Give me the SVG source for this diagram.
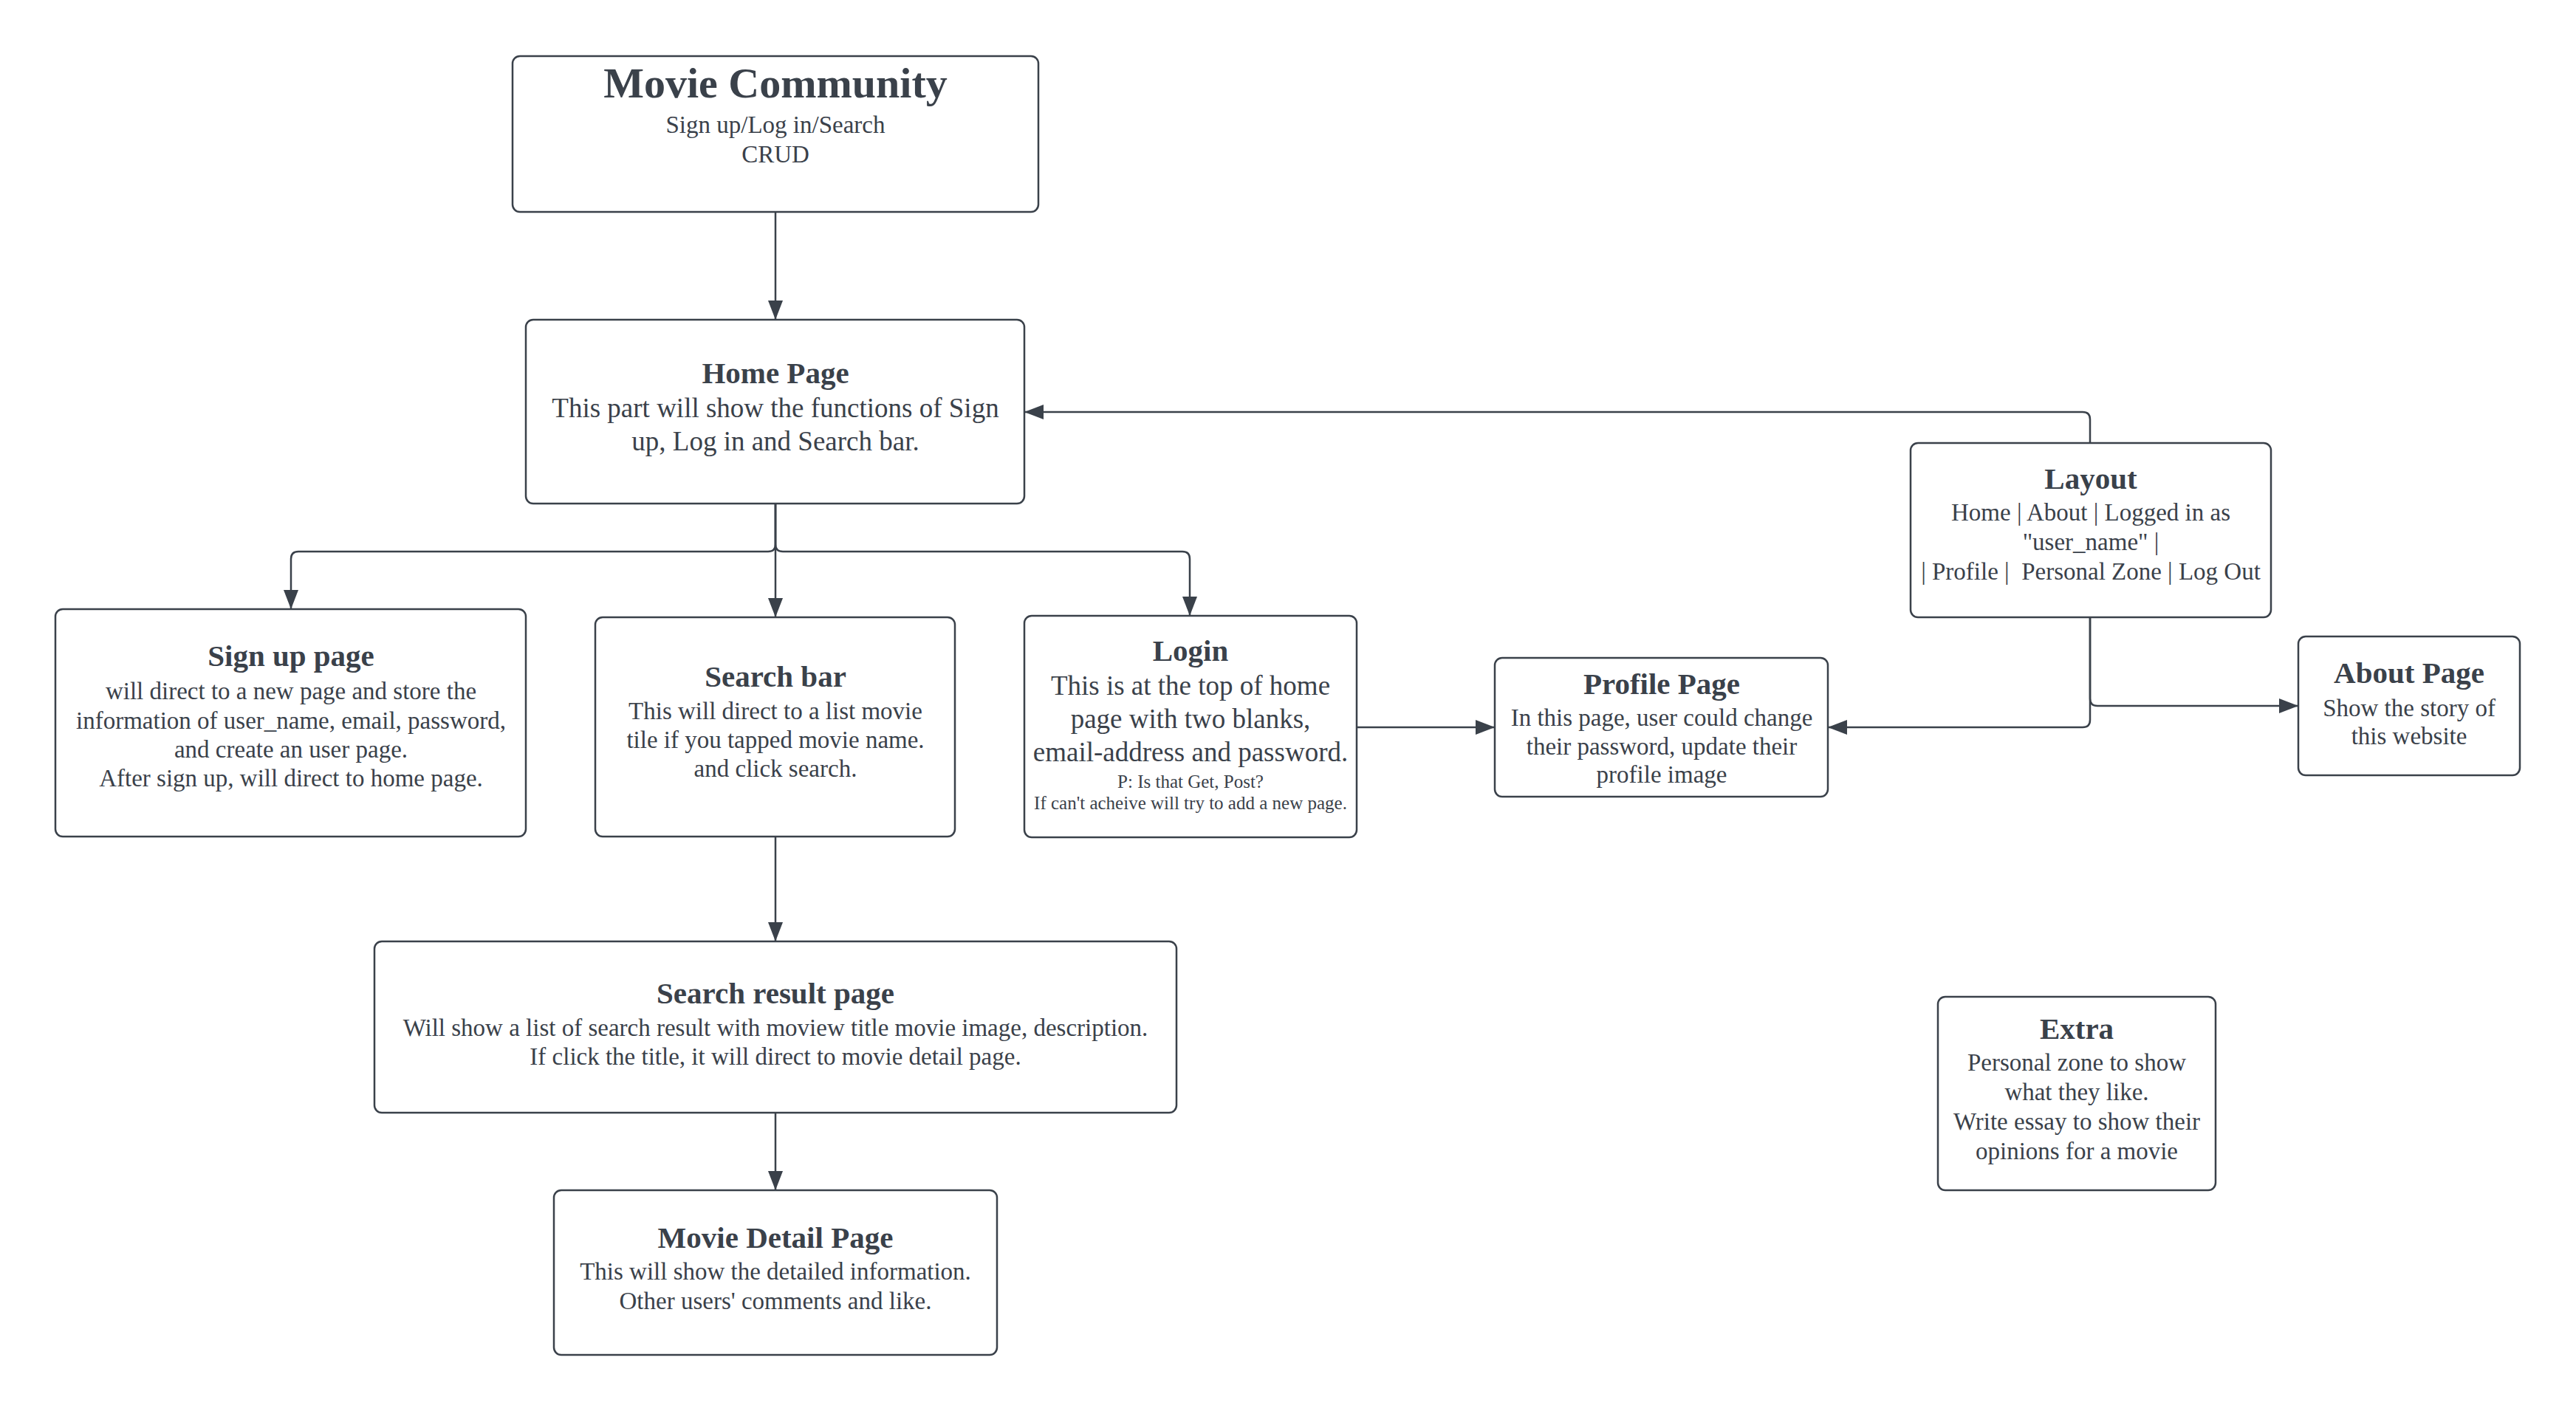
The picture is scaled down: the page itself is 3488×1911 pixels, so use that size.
<svg xmlns="http://www.w3.org/2000/svg" width="3488" height="1911" viewBox="0 0 3488 1911">
<style>
.box{fill:#ffffff;stroke:#3a414a;stroke-width:2.5}
.t{font-family:"Liberation Serif","Times New Roman",serif;fill:#3a414a;text-anchor:middle}
.h{font-size:41px;font-weight:bold}
.b{font-size:33px}
.bl{font-size:37px}
.s{font-size:25px}
.c{fill:none;stroke:#3a414a;stroke-width:2.5}
</style>
<defs>
<marker id="arr" markerUnits="userSpaceOnUse" markerWidth="26" markerHeight="20" refX="26" refY="10" orient="auto" viewBox="0 0 26 20">
<path d="M0,0 L26,10 L0,20 z" fill="#3a414a"/>
</marker>
</defs>
<rect width="3488" height="1911" fill="#ffffff"/>
<g id="connectors">
<path class="c" d="M1050,287 V433" marker-end="url(#arr)"/>
<path class="c" d="M1050,682 V836" marker-end="url(#arr)"/>
<path class="c" d="M1050,682 V737 Q1050,747 1040,747 H404 Q394,747 394,757 V825" marker-end="url(#arr)"/>
<path class="c" d="M1050,682 V737 Q1050,747 1060,747 H1601 Q1611,747 1611,757 V834" marker-end="url(#arr)"/>
<path class="c" d="M1050,1133 V1275" marker-end="url(#arr)"/>
<path class="c" d="M1050,1507 V1612" marker-end="url(#arr)"/>
<path class="c" d="M1837,985 H2024" marker-end="url(#arr)"/>
<path class="c" d="M2830,600 V568 Q2830,558 2820,558 H1387" marker-end="url(#arr)"/>
<path class="c" d="M2830,836 V946 Q2830,956 2840,956 H3112" marker-end="url(#arr)"/>
<path class="c" d="M2830,836 V975 Q2830,985 2820,985 H2475" marker-end="url(#arr)"/>
</g>
<g id="movie-community">
<rect class="box" x="694" y="76" width="712" height="211" rx="10"/>
<text class="t" x="1050" y="132" font-size="58" font-weight="bold">Movie Community</text>
<text class="t b" x="1050" y="180">Sign up/Log in/Search</text>
<text class="t b" x="1050" y="220">CRUD</text>
</g>
<g id="home-page">
<rect class="box" x="712" y="433" width="675" height="249" rx="10"/>
<text class="t h" x="1050" y="519">Home Page</text>
<text class="t bl" x="1050" y="565">This part will show the functions of Sign</text>
<text class="t bl" x="1050" y="610">up, Log in and Search bar.</text>
</g>
<g id="sign-up-page">
<rect class="box" x="75" y="825" width="637" height="308" rx="10"/>
<text class="t h" x="394" y="902">Sign up page</text>
<text class="t b" x="394" y="947">will direct to a new page and store the</text>
<text class="t b" x="394" y="987">information of user_name, email, password,</text>
<text class="t b" x="394" y="1026">and create an user page.</text>
<text class="t b" x="394" y="1065">After sign up, will direct to home page.</text>
</g>
<g id="search-bar">
<rect class="box" x="806" y="836" width="487" height="297" rx="10"/>
<text class="t h" x="1050" y="930">Search bar</text>
<text class="t b" x="1050" y="974">This will direct to a list movie</text>
<text class="t b" x="1050" y="1013">tile if you tapped movie name.</text>
<text class="t b" x="1050" y="1052">and click search.</text>
</g>
<g id="login">
<rect class="box" x="1387" y="834" width="450" height="300" rx="10"/>
<text class="t h" x="1612" y="895">Login</text>
<text class="t bl" x="1612" y="941">This is at the top of home</text>
<text class="t bl" x="1612" y="986">page with two blanks,</text>
<text class="t bl" x="1612" y="1031">email-address and password.</text>
<text class="t s" x="1612" y="1067">P: Is that Get, Post?</text>
<text class="t s" x="1612" y="1096">If can't acheive will try to add a new page.</text>
</g>
<g id="profile-page">
<rect class="box" x="2024" y="891" width="451" height="188" rx="10"/>
<text class="t h" x="2250" y="940">Profile Page</text>
<text class="t b" x="2250" y="983">In this page, user could change</text>
<text class="t b" x="2250" y="1022">their password, update their</text>
<text class="t b" x="2250" y="1060">profile image</text>
</g>
<g id="layout">
<rect class="box" x="2587" y="600" width="488" height="236" rx="10"/>
<text class="t h" x="2831" y="662">Layout</text>
<text class="t b" x="2831" y="705">Home | About | Logged in as</text>
<text class="t b" x="2831" y="745">"user_name" |</text>
<text class="t b" x="2831" y="785" xml:space="preserve">| Profile |  Personal Zone | Log Out</text>
</g>
<g id="about-page">
<rect class="box" x="3112" y="862" width="300" height="188" rx="10"/>
<text class="t h" x="3262" y="925">About Page</text>
<text class="t b" x="3262" y="970">Show the story of</text>
<text class="t b" x="3262" y="1008">this website</text>
</g>
<g id="search-result-page">
<rect class="box" x="507" y="1275" width="1086" height="232" rx="10"/>
<text class="t h" x="1050" y="1359">Search result page</text>
<text class="t b" x="1050" y="1403">Will show a list of search result with moview title movie image, description.</text>
<text class="t b" x="1050" y="1442">If click the title, it will direct to movie detail page.</text>
</g>
<g id="movie-detail-page">
<rect class="box" x="750" y="1612" width="600" height="223" rx="10"/>
<text class="t h" x="1050" y="1690">Movie Detail Page</text>
<text class="t b" x="1050" y="1733">This will show the detailed information.</text>
<text class="t b" x="1050" y="1773">Other users' comments and like.</text>
</g>
<g id="extra">
<rect class="box" x="2624" y="1350" width="376" height="262" rx="10"/>
<text class="t h" x="2812" y="1407">Extra</text>
<text class="t b" x="2812" y="1450">Personal zone to show</text>
<text class="t b" x="2812" y="1490">what they like.</text>
<text class="t b" x="2812" y="1530">Write essay to show their</text>
<text class="t b" x="2812" y="1570">opinions for a movie</text>
</g>
</svg>
